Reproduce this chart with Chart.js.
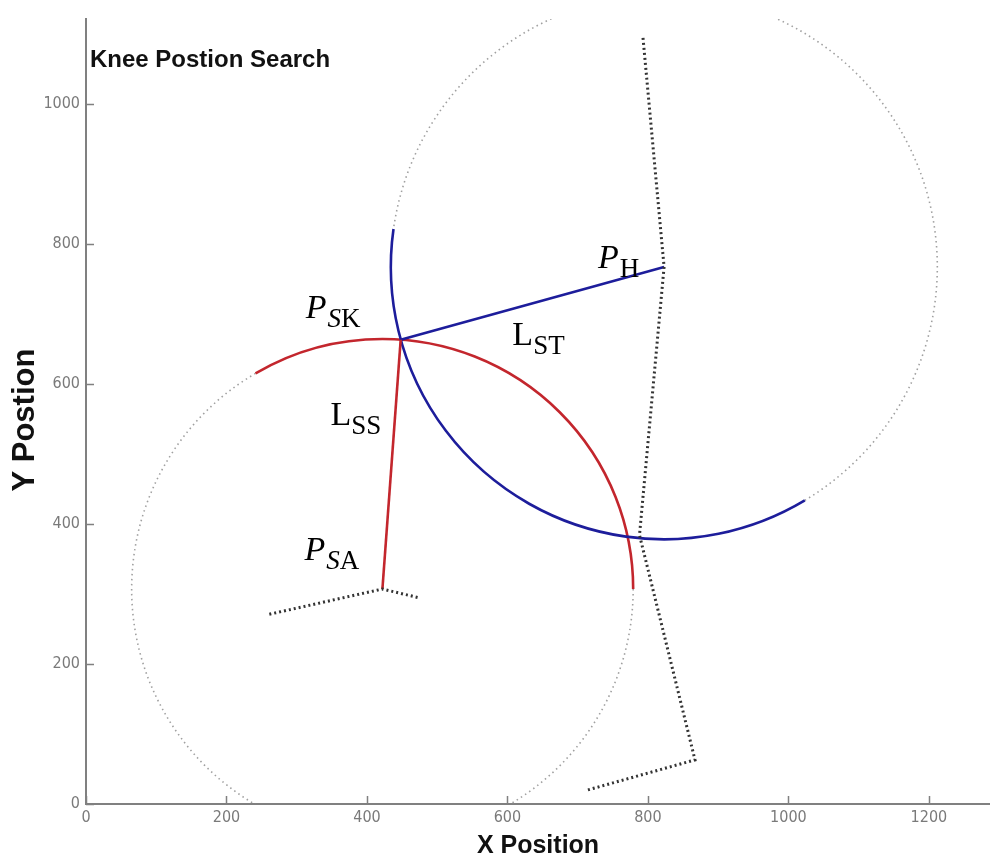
<!DOCTYPE html>
<html>
<head>
<meta charset="utf-8">
<script src="https://cdn.jsdelivr.net/npm/chart.js@4.4.1/dist/chart.umd.min.js"></script>
<style>
  html, body { margin: 0; padding: 0; background: #fff; }
  #wrap { width: 990px; height: 854px; }
</style>
</head>
<body>
<div id="wrap"><canvas id="knee"></canvas></div>
<script>
// axis ticks
var xTicks = [0, 200, 400, 600, 800, 1000, 1200];
var yTicks = [0, 200, 400, 600, 800, 1000];

// joint positions
var kneeSK  = {x: 448, y: 663};
var hipH    = {x: 823, y: 767};
var ankleSA = {x: 422, y: 307};

var thighST = [kneeSK, hipH];
var shankSS = [kneeSK, ankleSA];
var footSA  = [{x: 261, y: 271}, ankleSA, {x: 476, y: 294}];
var otherLeg = [{x: 793, y: 1094}, hipH, {x: 788, y: 384}, {x: 867, y: 63}, {x: 714, y: 20}];

// search circles: centre, radius, solid arc from..to (degrees, counter-clockwise)
var shankCircle = {c: ankleSA, r: 357, from: 0, to: 120.4};
var thighCircle = {c: hipH, r: 389, from: 172, to: 301};

// math labels: anchor in data units, then pieces [text, italic, subscript]
var labels = [
  {at: {x: 729, y: 766}, parts: [['P', 1, 0], ['H', 0, 1]]},
  {at: {x: 313, y: 694}, parts: [['P', 1, 0], ['S', 1, 1], ['K', 0, 1]]},
  {at: {x: 607, y: 656}, parts: [['L', 0, 0], ['ST', 0, 1]]},
  {at: {x: 348, y: 541}, parts: [['L', 0, 0], ['SS', 0, 1]]},
  {at: {x: 311, y: 349}, parts: [['P', 1, 0], ['S', 1, 1], ['A', 0, 1]]}
];

var RED = '#c3262d';
var BLUE = '#1d1d9b';
var DOT = '#333333';
var AXIS = '#808080';
var SANS = '"Liberation Sans", Arial, sans-serif';
var NARROW = '"Liberation Sans Narrow", "Arial Narrow", "DejaVu Sans Condensed", sans-serif';

var drawCircle = function(chart, circ, color) {
  var ctx = chart.ctx, xs = chart.scales.x, ys = chart.scales.y;
  var cx = xs.getPixelForValue(circ.c.x), cy = ys.getPixelForValue(circ.c.y);
  var rx = Math.abs(xs.getPixelForValue(circ.c.x + circ.r) - cx);
  var ry = Math.abs(ys.getPixelForValue(circ.c.y + circ.r) - cy);
  var a1 = -circ.from * Math.PI / 180, a2 = -circ.to * Math.PI / 180;
  // dotted remainder
  ctx.beginPath();
  ctx.setLineDash([1.5, 3.5]);
  ctx.strokeStyle = '#a0a0a0';
  ctx.lineWidth = 1.6;
  ctx.ellipse(cx, cy, rx, ry, 0, a2, a1 - 2 * Math.PI, true);
  ctx.stroke();
  // solid search arc
  ctx.beginPath();
  ctx.setLineDash([]);
  ctx.strokeStyle = color;
  ctx.lineWidth = 2.6;
  ctx.ellipse(cx, cy, rx, ry, 0, a1, a2, true);
  ctx.stroke();
};

var arcPlugin = {
  id: 'arcs',
  beforeDatasetsDraw: function(chart) {
    var ctx = chart.ctx, a = chart.chartArea;
    ctx.save();
    ctx.beginPath();
    ctx.rect(a.left, a.top, a.right - a.left, a.bottom - a.top);
    ctx.clip();
    drawCircle(chart, shankCircle, RED);
    drawCircle(chart, thighCircle, BLUE);
    ctx.restore();
  },
  afterDatasetsDraw: function(chart) {
    var ctx = chart.ctx, a = chart.chartArea, xs = chart.scales.x, ys = chart.scales.y;
    ctx.save();
    // inward tick marks, matlab style
    ctx.strokeStyle = AXIS;
    ctx.lineWidth = 1.5;
    ctx.beginPath();
    xTicks.forEach(function(v) {
      var px = Math.round(xs.getPixelForValue(v)) + 0.5;
      ctx.moveTo(px, a.bottom);
      ctx.lineTo(px, a.bottom - 8);
    });
    yTicks.forEach(function(v) {
      var py = Math.round(ys.getPixelForValue(v)) + 0.5;
      ctx.moveTo(a.left, py);
      ctx.lineTo(a.left + 8, py);
    });
    ctx.stroke();

    // title inside the axes
    ctx.fillStyle = '#111';
    ctx.font = 'bold 24px ' + SANS;
    ctx.textBaseline = 'alphabetic';
    ctx.fillText('Knee Postion Search', a.left + 4, a.top + 48);

    // math labels
    ctx.fillStyle = '#000';
    labels.forEach(function(lb) {
      var px = xs.getPixelForValue(lb.at.x), py = ys.getPixelForValue(lb.at.y);
      lb.parts.forEach(function(p) {
        var size = p[2] ? 27 : 34;
        ctx.font = (p[1] ? 'italic ' : '') + size + 'px "Liberation Serif", "DejaVu Serif", serif';
        var y = p[2] ? py + 9 : py;
        ctx.fillText(p[0], px, y);
        px += ctx.measureText(p[0]).width + (p[1] && !p[2] ? 1 : 0);
      });
    });
    ctx.restore();
  }
};

var lineSet = function(data, color, width, dash) {
  return {
    data: data,
    showLine: true,
    borderColor: color,
    borderWidth: width,
    borderDash: dash,
    pointRadius: 0,
    fill: false,
    tension: 0
  };
};

var plainTick = function(v) { return String(v); };

new Chart(document.getElementById('knee'), {
  type: 'scatter',
  data: {
    datasets: [
      lineSet(otherLeg, DOT, 3, [2, 3]),
      lineSet(footSA, DOT, 3, [2, 3]),
      lineSet(shankSS, RED, 2.6, []),
      lineSet(thighST, BLUE, 2.6, [])
    ]
  },
  options: {
    responsive: true,
    maintainAspectRatio: false,
    animation: false,
    layout: {padding: {top: 19, right: 0, left: 0, bottom: 0}},
    plugins: {legend: {display: false}, tooltip: {enabled: false}},
    scales: {
      x: {
        type: 'linear',
        min: 0,
        max: 1287,
        afterFit: function(s) { s.height = 50; },
        afterBuildTicks: function(s) { s.ticks = xTicks.map(function(v) { return {value: v}; }); },
        grid: {display: false, drawTicks: false},
        border: {display: true, color: AXIS, width: 2},
        ticks: {color: '#7a7a7a', padding: 4, maxRotation: 0, callback: plainTick,
                font: {family: NARROW, size: 16}},
        title: {display: true, text: 'X Position', color: '#111', padding: {top: 0, bottom: -5},
                font: {family: SANS, size: 25, weight: 'bold', lineHeight: 1}}
      },
      y: {
        type: 'linear',
        min: 0,
        max: 1121,
        afterFit: function(s) { s.width = 86; },
        afterBuildTicks: function(s) { s.ticks = yTicks.map(function(v) { return {value: v}; }); },
        grid: {display: false, drawTicks: false},
        border: {display: true, color: AXIS, width: 2},
        ticks: {color: '#7a7a7a', padding: 6, callback: plainTick,
                font: {family: NARROW, size: 16}},
        title: {display: true, text: 'Y Postion  ', color: '#111', padding: {top: 10, bottom: 0},
                font: {family: SANS, size: 31, weight: 'bold', lineHeight: 1}}
      }
    }
  },
  plugins: [arcPlugin]
});
</script>
</body>
</html>
